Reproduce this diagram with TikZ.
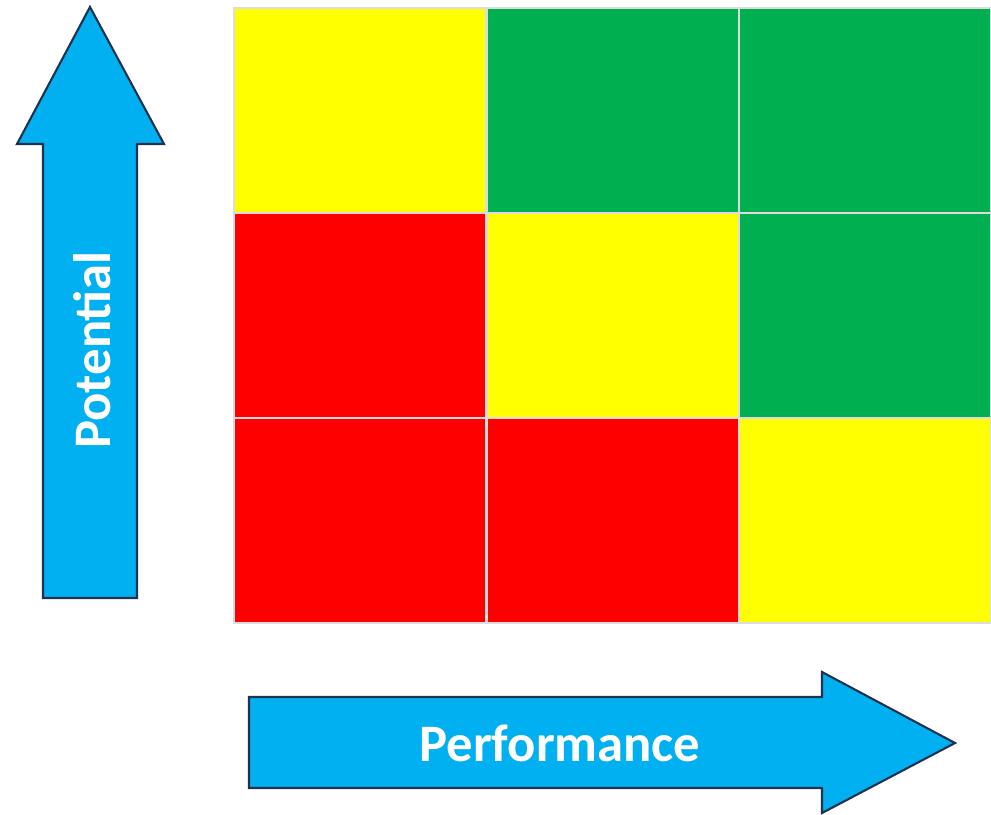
\documentclass[tikz,border=0pt]{standalone}
\usepackage{fontspec}
\setmainfont{Carlito}
\definecolor{arrowblue}{HTML}{00B0F0}
\definecolor{arrowedge}{HTML}{1F3250}
\definecolor{gridgray}{HTML}{DCDCDC}
\definecolor{cellyellow}{HTML}{FFFF00}
\definecolor{cellgreen}{HTML}{00B050}
\definecolor{cellred}{HTML}{FF0000}
\begin{document}
\begin{tikzpicture}[x=0.02cm,y=-0.02cm,
  cellbox/.style={draw=gridgray,line width=1.6pt},
  arrowshape/.style={fill=arrowblue,draw=arrowedge,line width=1.2pt,line join=miter},
  arrowlabel/.style={text=white,font=\bfseries\fontsize{30}{36}\selectfont}]
	\useasboundingbox (0,0) rectangle (991,815);
	% the nine cells, row 0 at the top
	\foreach \col/\row/\c in {0/0/cellyellow,1/0/cellgreen,2/0/cellgreen,
	                          0/1/cellred,1/1/cellyellow,2/1/cellgreen,
	                          0/2/cellred,1/2/cellred,2/2/cellyellow}
		\draw[cellbox,fill=\c] ({234+\col*252.5},{8+\row*205}) rectangle ++(252.5,205);
	% axes
	\draw[arrowshape] (90,7) -- (164,144) -- (137,144) -- (137,598) -- (43,598) -- (43,144) -- (17,144) -- cycle;
	\node[arrowlabel,rotate=90] (potential) at (92,350) {Potential};
	\draw[arrowshape] (249,697) -- (822,697) -- (822,672) -- (955,743) -- (822,813) -- (822,788) -- (249,788) -- cycle;
	\node[arrowlabel] (performance) at (560,743) {Performance};
\end{tikzpicture}
\end{document}
